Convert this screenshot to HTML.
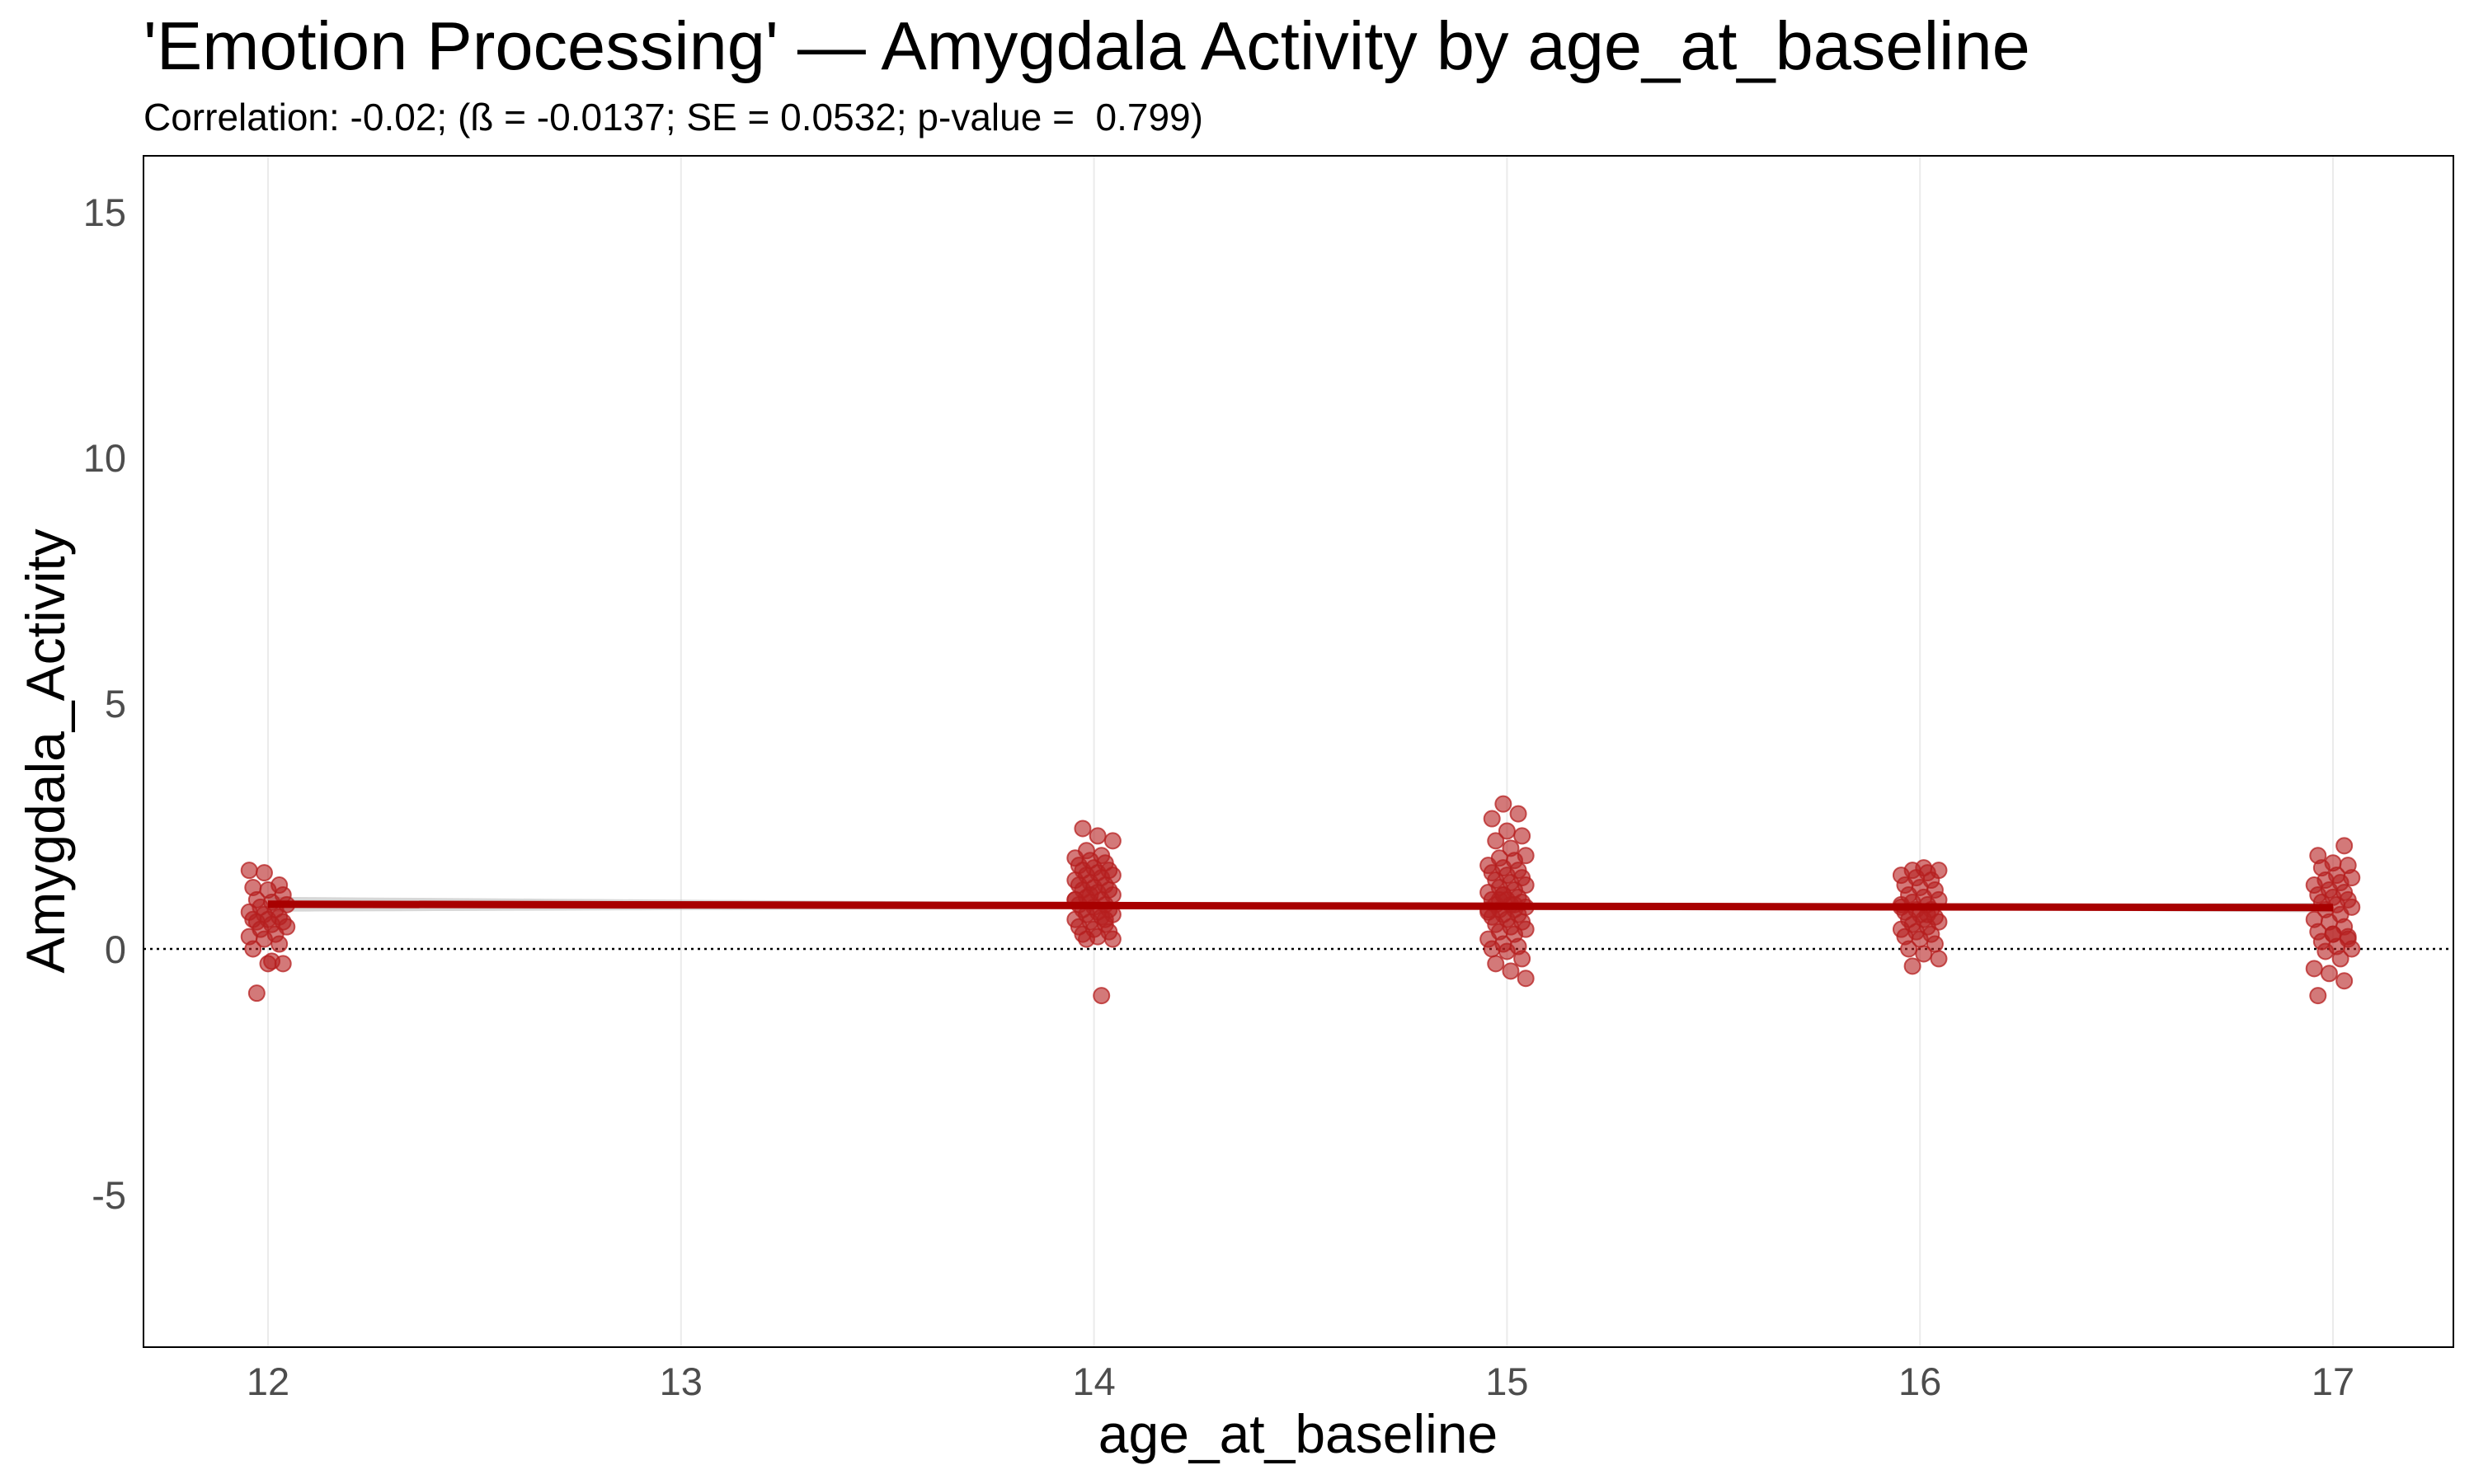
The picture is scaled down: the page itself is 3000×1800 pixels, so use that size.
<!DOCTYPE html>
<html><head><meta charset="utf-8"><style>
html,body{margin:0;padding:0;background:#fff;}
svg{display:block;font-family:"Liberation Sans",Arial,sans-serif;}
</style></head><body>
<svg id="chart" width="3000" height="1800" viewBox="0 0 3000 1800" xmlns="http://www.w3.org/2000/svg">
<text x="174" y="84" font-size="83" fill="#000">'Emotion Processing' — Amygdala Activity by age_at_baseline</text>
<text x="174" y="158" font-size="46" fill="#000" xml:space="preserve">Correlation: -0.02; (ß = -0.0137; SE = 0.0532; p-value =  0.799)</text>
<g id="grid"></g>
<line id="zero" stroke="#000" stroke-width="2.5" stroke-dasharray="3,5"/>
<path id="ribbon" fill="#bdbdbd" fill-opacity="0.6"/>
<g id="points"></g>
<line id="fit" stroke="#a80000" stroke-width="9"/>
<rect x="174" y="189" width="2801" height="1445" fill="none" stroke="#000" stroke-width="2"/>
<g id="xticks"></g>
<g id="yticks"></g>
<text x="1574" y="1762" font-size="66" text-anchor="middle">age_at_baseline</text>
<text transform="translate(78,911) rotate(-90)" font-size="66" text-anchor="middle">Amygdala_Activity</text>
</svg>
<script>
const xTicks=[12,13,14,15,16,17];
const yTicks=[-5,0,5,10,15];
const ages12=[1.6,1.55,1.3,1.25,1.2,1.1,1.0,0.95,0.9,0.85,0.8,0.75,0.7,0.65,0.6,0.6,0.55,0.55,0.5,0.45,0.4,0.3,0.25,0.2,0.1,0,-0.3,-0.3,-0.9,-0.25];
const ages14=[2.45,2.3,2.2,2.0,1.9,1.85,1.8,1.75,1.7,1.65,1.6,1.6,1.55,1.5,1.5,1.45,1.4,1.35,1.3,1.3,1.25,1.2,1.2,1.15,1.1,1.05,1.0,1.0,0.95,0.9,0.9,0.85,0.8,0.8,0.75,0.7,0.7,0.65,0.6,0.55,0.5,0.45,0.4,0.35,0.3,0.25,0.2,0.2,-0.95,1.0,1.1,0.6];
const ages15=[2.95,2.75,2.65,2.4,2.3,2.2,2.05,1.9,1.85,1.8,1.7,1.65,1.6,1.55,1.5,1.45,1.4,1.35,1.3,1.25,1.2,1.15,1.1,1.05,1.0,1.0,0.95,0.9,0.9,0.85,0.8,0.8,0.75,0.7,0.7,0.65,0.6,0.55,0.5,0.45,0.4,0.35,0.3,0.2,0.1,0.05,0,-0.05,-0.2,-0.3,-0.45,-0.6,1.0,0.9,0.8,1.1];
const ages16=[1.65,1.6,1.6,1.55,1.5,1.45,1.4,1.3,1.25,1.2,1.1,1.05,1.0,0.95,0.9,0.85,0.8,0.8,0.75,0.7,0.65,0.6,0.6,0.55,0.5,0.45,0.4,0.35,0.3,0.25,0.2,0.1,0.0,-0.1,-0.2,-0.35,0.7,0.9];
const ages17=[2.1,1.9,1.75,1.7,1.65,1.5,1.45,1.4,1.35,1.3,1.2,1.15,1.1,1.05,1.0,0.95,0.9,0.85,0.8,0.7,0.6,0.55,0.45,0.35,0.3,0.25,0.15,0.05,0,-0.05,-0.2,-0.4,-0.5,-0.65,-0.95,0.3,0.2];
const groupAges=[12,14,15,16,17];
const fitIntercept=0.91, fitSlope=-0.0137;

const NS="http://www.w3.org/2000/svg";
const X0=174,X1=2975,Y0=189,Y1=1634;
const sx=v=>325+(v-12)*500.8;
const sy=v=>1151-v*59.6;
function mk(tag,attrs,parent){const e=document.createElementNS(NS,tag);for(const k in attrs)e.setAttribute(k,attrs[k]);parent.appendChild(e);return e;}
const grid=document.getElementById('grid');
xTicks.forEach(t=>{const l=mk('line',{x1:sx(t),x2:sx(t),y1:Y0,y2:Y1,stroke:'#ebebeb','stroke-width':2},grid);


const tx=mk('text',{x:sx(t),y:1692,'font-size':47,'text-anchor':'middle',fill:'#4d4d4d'},document.getElementById('xticks'));tx.textContent=t;

});
yTicks.forEach(t=>{const tx=mk('text',{x:153,y:sy(t)+17,'font-size':47,'text-anchor':'end',fill:'#4d4d4d'},document.getElementById('yticks'));tx.textContent=t;

});
const z=document.getElementById('zero');
z.setAttribute('x1',X0);z.setAttribute('x2',X1);z.setAttribute('y1',sy(0));z.setAttribute('y2',sy(0));
const fitY=a=>fitIntercept+fitSlope*(a-12);
const se=a=>Math.sqrt(0.0016+0.0022*Math.pow(a-15.1,2));
const upperPts=[],lowerPts=[];
for(let a=12;a<=17.0001;a+=0.1){upperPts.push(sx(a)+','+sy(fitY(a)+se(a)));lowerPts.unshift(sx(a)+','+sy(fitY(a)-se(a)));}
document.getElementById('ribbon').setAttribute('d','M'+upperPts.join('L')+'L'+lowerPts.join('L')+'Z');
const f=document.getElementById('fit');
f.setAttribute('x1',sx(12));f.setAttribute('x2',sx(17));f.setAttribute('y1',sy(fitY(12)));f.setAttribute('y2',sy(fitY(17)));
const pts=document.getElementById('points');
[ages12,ages14,ages15,ages16,ages17].forEach((arr,g)=>{arr.forEach((v,i)=>{
 const j=(((i*37+g*13)%11)-5)/110;
 const c=mk('circle',{cx:sx(groupAges[g]+j),cy:sy(v),r:9.5,fill:'#b51f1f','fill-opacity':0.6,stroke:'#b51f1f','stroke-opacity':0.75,'stroke-width':2},pts);
 
 
});});
</script>
</body></html>
